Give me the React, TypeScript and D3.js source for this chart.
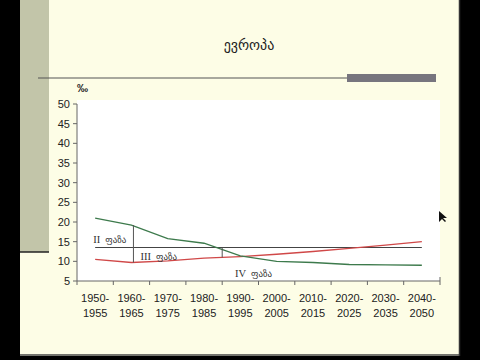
import React from "react";
import * as d3 from "d3";

const categories = [
  ["1950-", "1955"], ["1960-", "1965"], ["1970-", "1975"], ["1980-", "1985"], ["1990-", "1995"],
  ["2000-", "2005"], ["2010-", "2015"], ["2020-", "2025"], ["2030-", "2035"], ["2040-", "2050"],
];
const birthRate = [21.0, 19.2, 15.8, 14.6, 11.4, 10.0, 9.7, 9.2, 9.1, 9.0];
const deathRate = [10.5, 9.7, 10.1, 10.8, 11.2, 11.8, 12.5, 13.3, 14.1, 15.0];
const levelLine = 13.5;
const yTicks = [5, 10, 15, 20, 25, 30, 35, 40, 45, 50];
const phaseLabels = [
  { num: "II", word: "ფაზა", cat: -0.05, val: 14.6 },
  { num: "III", word: "ფაზა", cat: 1.25, val: 10.4 },
  { num: "IV", word: "ფაზა", cat: 3.85, val: 6.0 },
];
const title = "ევროპა";

export default function App() {
  const W = 480, H = 360;
  const keys = categories.map((c) => c.join(""));
  const x = d3.scaleBand<string>().domain(keys).range([77, 440]);
  const bw = x.bandwidth();
  const cx = (i: number) => (x(keys[0]) as number) + bw * (i + 0.5);
  const y = d3.scaleLinear().domain([5, 50]).range([281, 104]);
  const line = d3.line<number>().x((_, i) => cx(i)).y((d) => y(d));
  const geo = "'DejaVu Sans', 'Noto Sans', sans-serif";
  const ser = "'Liberation Serif', 'DejaVu Serif', serif";
  const arial = "Arial, 'Liberation Sans', sans-serif";

  const v1x = cx(1) + 2;
  const v2x = cx(3.5);
  return (
    <svg width={W} height={H} style={{ position: "absolute", left: 0, top: 0 }}>
      <rect x={0} y={0} width={W} height={H} fill="#000" />
      <rect x={20} y={0} width={440} height={356} fill="#fdfde6" />
      <rect x={20} y={0} width={29} height={252} fill="#c2c5a9" />
      <line x1={20} x2={49} y1={252} y2={252} stroke="#222" strokeWidth={1.5} />
      <line x1={20} x2={460} y1={355} y2={355} stroke="#444" strokeWidth={1.5} />
      <line x1={459.5} x2={459.5} y1={0} y2={356} stroke="#333" strokeWidth={1.5} />
      <text x={249} y={50} textAnchor="middle" fontFamily={geo} fontSize={14} fill="#222">{title}</text>
      <line x1={38} x2={348} y1={78} y2={78} stroke="#555" strokeWidth={1.2} />
      <rect x={347} y={74} width={89} height={8} fill="#77757e" />
      <text x={77} y={92} fontFamily={arial} fontSize={11} fontWeight="bold" fill="#222">‰</text>
      <rect x={77} y={100} width={363} height={181} fill="#ffffff" />
      <line x1={77} x2={77} y1={104} y2={281} stroke="#666" />
      {yTicks.map((t) => (
        <g key={t}>
          <line x1={73} x2={77} y1={y(t)} y2={y(t)} stroke="#666" />
          <text x={70} y={y(t) + 4} textAnchor="end" fontFamily={arial} fontSize={11} fill="#222">{t}</text>
        </g>
      ))}
      <line x1={77} x2={440} y1={281} y2={281} stroke="#666" />
      {keys.map((k) => (
        <line key={k} x1={x(k) as number} x2={x(k) as number} y1={281} y2={285} stroke="#666" />
      ))}
      <line x1={440} x2={440} y1={277} y2={285} stroke="#666" />
      {categories.map((c, i) => (
        <text key={i} textAnchor="middle" fontFamily={arial} fontSize={11} fill="#222">
          <tspan x={cx(i)} y={302}>{c[0]}</tspan>
          <tspan x={cx(i)} y={317}>{c[1]}</tspan>
        </text>
      ))}
      <line x1={cx(0)} x2={cx(9)} y1={y(levelLine)} y2={y(levelLine)} stroke="#444" strokeWidth={1.1} />
      <path d={line(deathRate) as string} fill="none" stroke="#d04848" strokeWidth={1.3} />
      <path d={line(birthRate) as string} fill="none" stroke="#3d7a4c" strokeWidth={1.3} />
      <line x1={v1x} x2={v1x} y1={y(birthRate[1])} y2={y(deathRate[1])} stroke="#555" strokeWidth={1} />
      <line x1={v2x} x2={v2x} y1={y(levelLine)} y2={y(11.0)} stroke="#555" strokeWidth={1} />
      {phaseLabels.map((p, i) => (
        <text key={i} x={cx(p.cat)} y={y(p.val)} fontSize={10.5} fill="#333">
          <tspan fontFamily={ser}>{p.num}</tspan>
          <tspan fontFamily={geo} fontSize={9} dx={5}>{p.word}</tspan>
        </text>
      ))}
      <path d="M439,211 L439,222 L442,219 L445,222 L446,221 L443,218 L447,218 Z" fill="#111" />
    </svg>
  );
}
